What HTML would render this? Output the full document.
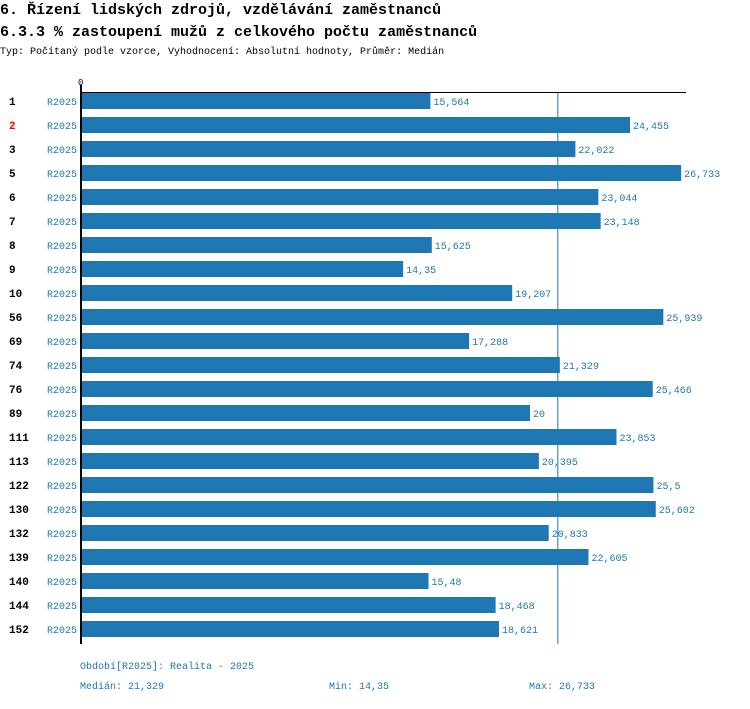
<!DOCTYPE html>
<html><head><meta charset="utf-8"><style>
body{margin:0;background:#fff;width:750px;height:704px;overflow:hidden;font-family:"Liberation Mono",monospace;}
svg text{font-family:"Liberation Mono",monospace;}
</style></head><body>
<svg width="750" height="704">
<text x="0" y="14" font-size="15" font-weight="bold" fill="#000">6. Řízení lidských zdrojů, vzdělávání zaměstnanců</text>
<text x="0" y="36" font-size="15" font-weight="bold" fill="#000">6.3.3 % zastoupení mužů z celkového počtu zaměstnanců</text>
<text x="0" y="54" font-size="10" fill="#000">Typ: Počítaný podle vzorce, Vyhodnocení: Absolutní hodnoty, Průměr: Medián</text>
<g id="plot"></g>
<text x="80" y="669" font-size="10" fill="#1f77b4">Období[R2025]: Realita - 2025</text>
<text x="80" y="689" font-size="10" fill="#1f77b4">Medián: 21,329</text>
<text x="329" y="689" font-size="10" fill="#1f77b4">Min: 14,35</text>
<text x="529" y="689" font-size="10" fill="#1f77b4">Max: 26,733</text>
</svg>
<script>
const categories=["1","2","3","5","6","7","8","9","10","56","69","74","76","89","111","113","122","130","132","139","140","144","152"];
const values=[15.564,24.455,22.022,26.733,23.044,23.148,15.625,14.35,19.207,25.939,17.288,21.329,25.466,20,23.853,20.395,25.5,25.602,20.833,22.605,15.48,18.468,18.621];
const highlighted=["2"];
const medianValue=21.329;
const NS="http://www.w3.org/2000/svg";
const g=document.getElementById("plot");
const x0=81,k=22.45,top0=93,pitch=24,bh=16;
const xs=v=>x0+v*k;
function mk(t,a,txt){const e=document.createElementNS(NS,t);for(const n in a)e.setAttribute(n,a[n]);if(txt!=null)e.textContent=txt;g.appendChild(e);return e;}
const fmt=v=>String(v).replace(".",",");
const endY=top0+categories.length*pitch;
categories.forEach((c,i)=>{
  const y=top0+i*pitch;
  const lab=mk("text",{x:9,y:y+12,"font-size":11,"font-weight":"bold",fill:highlighted.includes(c)?"#ff0000":"#000"},c);
  
  
  const per=mk("text",{x:47,y:y+12,"font-size":10,fill:"#1f77b4"},"R2025");
  
  
  const b=mk("rect",{x:x0,y:y,width:xs(values[i])-x0,height:bh,fill:"#1f77b4"});
  
  
  const vl=mk("text",{x:xs(values[i])+3,y:y+12,"font-size":10,fill:"#1f77b4"},fmt(values[i]));
  
  
});
const ml=mk("line",{x1:xs(medianValue)-2,x2:xs(medianValue)-2,y1:92,y2:endY-1,stroke:"#1f77b4","stroke-width":1});


const ax=mk("line",{x1:81,x2:81,y1:85,y2:endY-1,stroke:"#000","stroke-width":2});


const tl=mk("line",{x1:80,x2:686,y1:92.5,y2:92.5,stroke:"#000","stroke-width":1});


const z=mk("text",{x:78,y:85,"font-size":9,fill:"#000"},"0");


</script>
</body></html>
